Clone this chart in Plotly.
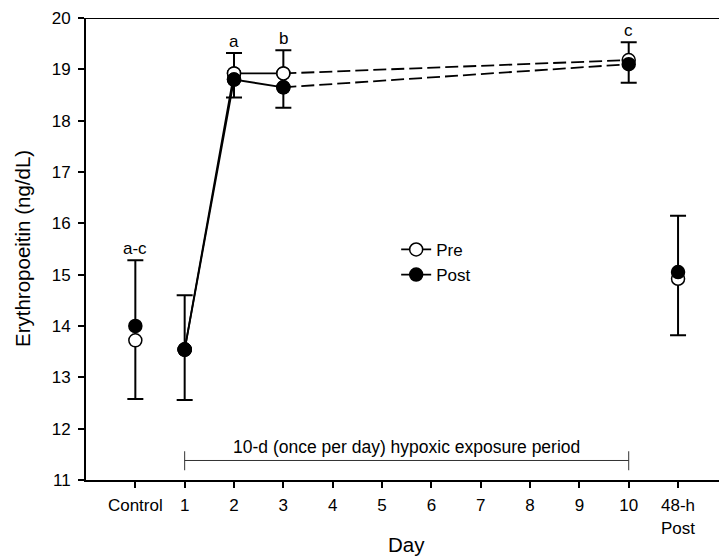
import plotly.graph_objects as go

# ---- data ----
categories = ["Control", "1", "2", "3", "4", "5", "6", "7", "8", "9", "10", "48-h Post"]
tick_text = ["Control", "1", "2", "3", "4", "5", "6", "7", "8", "9", "10", "48-h<br>Post"]

pre_days = ["Control", "1", "2", "3", "10", "48-h Post"]
pre_mean = [13.72, 13.54, 18.92, 18.92, 19.18, 14.92]
post_mean = [14.00, 13.54, 18.80, 18.65, 19.10, 15.05]

err_days = ["Control", "1", "2", "3", "10", "48-h Post"]
err_low = [12.58, 12.56, 18.45, 18.25, 18.74, 13.82]
err_high = [15.28, 14.60, 19.32, 19.37, 19.53, 16.15]

sig_days = ["Control", "2", "3", "10"]
sig_labels = ["a-c", "a", "b", "c"]

solid_days = ["1", "2", "3"]
dashed_days = ["3", "10"]

period_start, period_end = "1", "10"
period_label = "10-d (once per day) hypoxic exposure period"

def pick(days, vals, sel):
    d = dict(zip(days, vals))
    return [d[s] for s in sel]

fig = go.Figure()

# error bars (drawn first, behind markers)
err_mid = [(lo + hi) / 2 for lo, hi in zip(err_low, err_high)]
err_half = [(hi - lo) / 2 for lo, hi in zip(err_low, err_high)]
fig.add_trace(go.Scatter(
    x=err_days, y=err_mid, mode="markers", marker=dict(size=1, opacity=0),
    error_y=dict(type="data", array=err_half, symmetric=True, color="black",
                 thickness=2, width=8),
    showlegend=False, hoverinfo="skip"))

LW = 1.8
# dashed segments
for vals in (pre_mean, post_mean):
    fig.add_trace(go.Scatter(
        x=dashed_days, y=pick(pre_days, vals, dashed_days), mode="lines",
        line=dict(color="black", width=LW, dash="13px,5px"),
        showlegend=False, hoverinfo="skip"))

series = [("Pre", pre_mean, "white"), ("Post", post_mean, "black")]
for name, vals, fill in series:
    mk = dict(size=13, color=fill, line=dict(color="black", width=1.5))
    fig.add_trace(go.Scatter(
        x=solid_days, y=pick(pre_days, vals, solid_days), mode="lines+markers",
        line=dict(color="black", width=LW), marker=mk, name=name))
    fig.add_trace(go.Scatter(
        x=pre_days, y=vals, mode="markers", marker=mk, showlegend=False))

# significance letters
for d, lab in zip(sig_days, sig_labels):
    fig.add_annotation(x=d, y=dict(zip(err_days, err_high))[d], text=lab,
                       showarrow=False, yanchor="bottom", yshift=0,
                       font=dict(size=17, color="black"))

# exposure-period bracket
i0, i1 = categories.index(period_start), categories.index(period_end)
fig.add_shape(type="line", x0=i0, x1=i1, y0=11.38, y1=11.38, xref="x", yref="y",
              line=dict(color="#333", width=1))
for xi in (i0, i1):
    fig.add_shape(type="line", x0=xi, x1=xi, y0=11.19, y1=11.56, xref="x", yref="y",
                  line=dict(color="#333", width=1))
fig.add_annotation(x=(i0 + i1) / 2, y=11.38, text=period_label, showarrow=False,
                   yanchor="bottom", yshift=1, font=dict(size=17.5, color="black"))

# top frame line (right side cropped in original)
fig.add_shape(type="line", xref="paper", yref="y", x0=0, x1=1, y0=20, y1=20,
              line=dict(color="black", width=2))

# axis titles as annotations
fig.add_annotation(xref="paper", yref="paper", x=0, y=0.5, xshift=-64,
                   text="Erythropoeitin (ng/dL)", textangle=-90, showarrow=False,
                   xanchor="center", yanchor="middle", font=dict(size=20.5, color="black"))
fig.add_annotation(xref="paper", yref="paper", x=0.507, y=0, yshift=-64,
                   text="Day", showarrow=False, xanchor="center", yanchor="middle",
                   font=dict(size=20.5, color="black"))

fig.update_xaxes(type="category", categoryorder="array", categoryarray=categories,
                 tickvals=categories, ticktext=tick_text, range=[-1, 11.83],
                 showline=True, linecolor="black", linewidth=2,
                 ticks="outside", ticklen=6, tickwidth=2, tickcolor="black",
                 ticklabelstandoff=3,
                 showgrid=False, zeroline=False,
                 tickfont=dict(size=17, color="black"))
fig.update_yaxes(range=[11, 20], tick0=11, dtick=1,
                 showline=True, linecolor="black", linewidth=2,
                 ticks="outside", ticklen=6, tickwidth=2, tickcolor="black",
                 ticklabelstandoff=4,
                 showgrid=False, zeroline=False,
                 tickfont=dict(size=17, color="black"))

fig.update_layout(
    width=719, height=557,
    margin=dict(l=86, r=0, t=18, b=77),
    paper_bgcolor="white", plot_bgcolor="white",
    font=dict(family="Liberation Sans, Arial, sans-serif", color="black"),
    showlegend=True,
    legend=dict(x=0.49, y=0.537, xanchor="left", yanchor="top",
                bgcolor="rgba(0,0,0,0)", font=dict(size=17, color="black"),
                tracegroupgap=0, itemwidth=30),
)

fig.write_html("out.html")
